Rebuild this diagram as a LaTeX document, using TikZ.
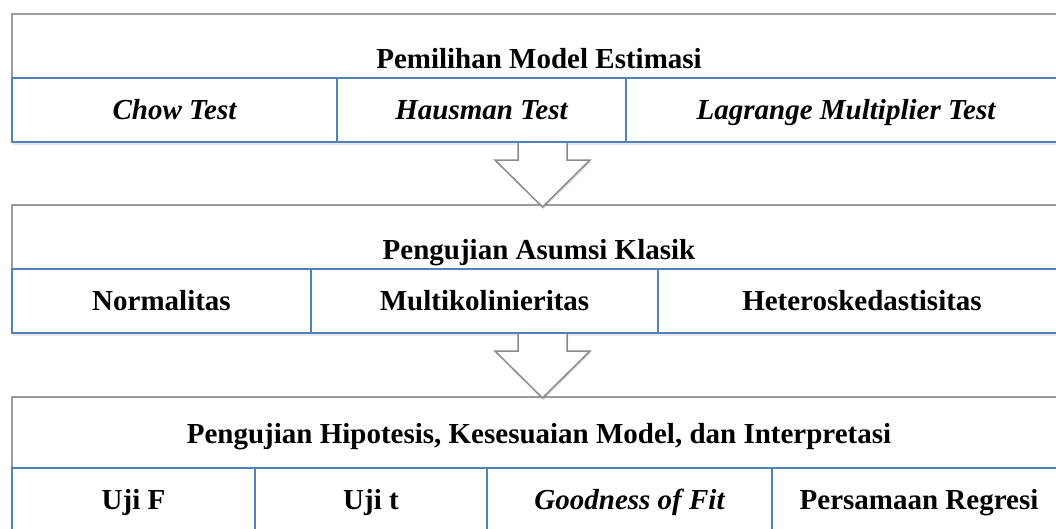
\documentclass[tikz,border=0pt]{standalone}
\usepackage{fontspec}
\setmainfont{Liberation Serif}
\usetikzlibrary{shadows,calc}
\definecolor{framegray}{RGB}{155,155,155}
\definecolor{cellblue}{RGB}{79,129,189}
\tikzset{
  frame/.style={draw=framegray, line width=1.5pt, fill=white, inner sep=0pt,
    drop shadow={opacity=0.18, shadow xshift=1pt, shadow yshift=-2.5pt}},
  cell/.style={draw=cellblue, line width=1.5pt, fill=white, inner sep=0pt,
    minimum height=64pt, text height=19pt, text depth=0pt,
    font=\fontsize{29}{34}\selectfont\bfseries},
  hdr/.style={anchor=base, inner sep=0pt, font=\fontsize{29}{34}\selectfont\bfseries},
  blockarrow/.style={draw=framegray!90!black, line width=1.5pt, fill=white, line join=miter,
    drop shadow={opacity=0.25, shadow xshift=1pt, shadow yshift=-2pt}}
}
\begin{document}
\begin{tikzpicture}[x=1pt,y=-1pt]
\useasboundingbox (0,0) rectangle (1056,528);
\clip (0,0) rectangle (1056,528);
% outer frames
\node[frame, minimum width=1054pt, minimum height=128pt] (f1) at (539,78) {};
\node[frame, minimum width=1054pt, minimum height=128pt] (f2) at (539,269) {};
\node[frame, minimum width=1054pt, minimum height=135pt] (f3) at (539,464.5) {};
% block arrows
\coordinate (a1) at (542.5,142);
\coordinate (a2) at (542.5,333);
\foreach \a in {a1,a2}{
  \filldraw[blockarrow] ($(\a)+(-24.5,0)$) -- ($(\a)+(-24.5,18)$) -- ($(\a)+(-47.5,18)$)
    -- ($(\a)+(0,65)$) -- ($(\a)+(47.5,18)$) -- ($(\a)+(24.5,18)$) -- ($(\a)+(24.5,0)$) -- cycle;
}
% headers
\node[hdr] (h1) at (539,68) {Pemilihan Model Estimasi};
\node[hdr] (h2) at (539,259) {Pengujian Asumsi Klasik};
\node[hdr] (h3) at (539,443) {Pengujian Hipotesis, Kesesuaian Model, dan Interpretasi};
% section 1 cells
\node[cell, minimum width=325pt] (c11) at (174.5,110) {\itshape Chow Test};
\node[cell, minimum width=289pt] (c12) at (481.5,110) {\itshape Hausman Test};
\node[cell, minimum width=440pt] (c13) at (846,110) {\itshape Lagrange Multiplier Test};
% section 2 cells
\node[cell, minimum width=299pt] (c21) at (161.5,301) {Normalitas};
\node[cell, minimum width=347pt] (c22) at (484.5,301) {Multikolinieritas};
\node[cell, minimum width=408pt] (c23) at (862,301) {Heteroskedastisitas};
% section 3 cells
\node[cell, minimum width=243pt] (c31) at (133.5,500) {Uji F};
\node[cell, minimum width=232pt] (c32) at (371,500) {Uji t};
\node[cell, minimum width=285pt] (c33) at (629.5,500) {\itshape Goodness of Fit};
\node[cell, minimum width=294pt] (c34) at (919,500) {Persamaan Regresi};
\end{tikzpicture}
\end{document}
